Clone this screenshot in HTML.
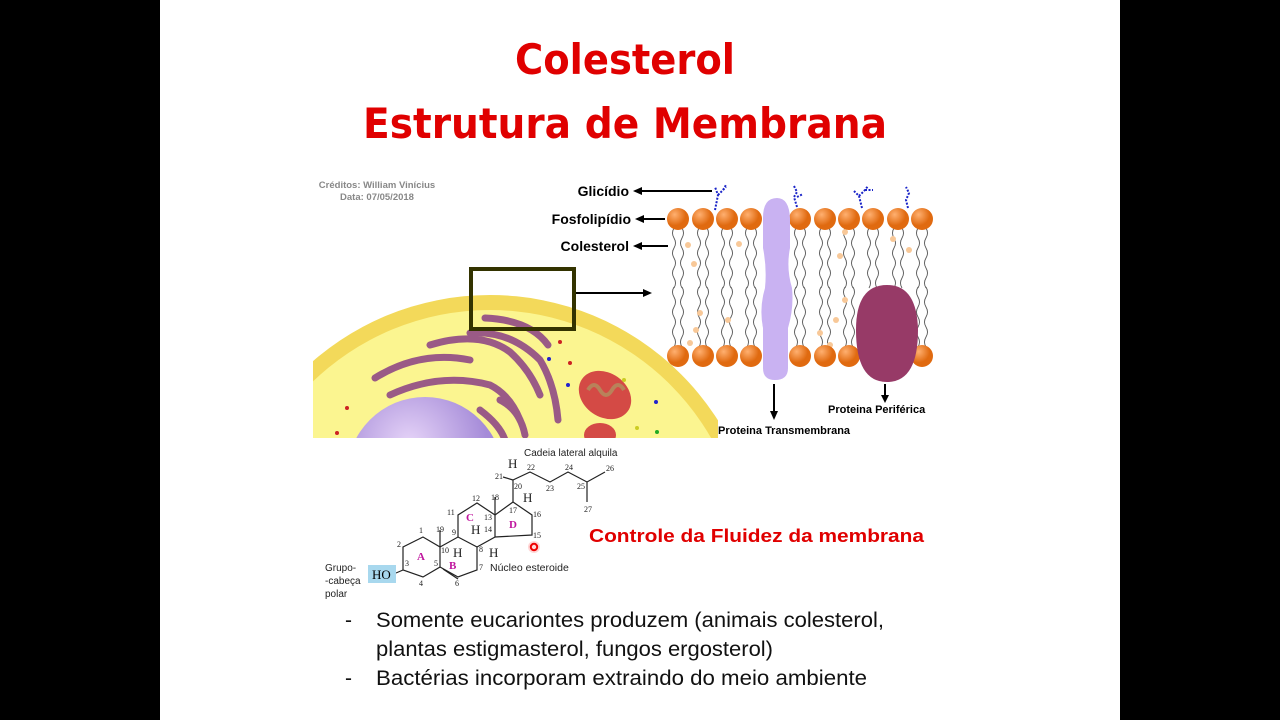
<!DOCTYPE html>
<html><head><meta charset="utf-8"><style>
html,body{margin:0;width:1280px;height:720px;background:#000;overflow:hidden;font-family:"Liberation Sans",sans-serif}
svg{display:block}
</style></head><body>
<svg width="1280" height="720" xmlns="http://www.w3.org/2000/svg" font-family="Liberation Sans, sans-serif">
<rect x="160" y="0" width="960" height="720" fill="#fff"/>
<text x="625" y="74" text-anchor="middle" font-size="42" font-weight="bold" fill="#e00000" font-family="DejaVu Sans, sans-serif" textLength="220" lengthAdjust="spacingAndGlyphs">Colesterol</text>
<text x="625" y="138" text-anchor="middle" font-size="42" font-weight="bold" fill="#e00000" font-family="DejaVu Sans, sans-serif" textLength="524" lengthAdjust="spacingAndGlyphs">Estrutura de Membrana</text>
<text x="377" y="188" text-anchor="middle" font-size="9.5" font-weight="bold" fill="#888">Créditos: William Vinícius</text>
<text x="377" y="200" text-anchor="middle" font-size="9.5" font-weight="bold" fill="#888">Data: 07/05/2018</text>
<defs><clipPath id="c"><rect x="313" y="255" width="405" height="183"/></clipPath>
<radialGradient id="nu" cx="0.4" cy="0.3"><stop offset="0" stop-color="#e6d4f8"/><stop offset="1" stop-color="#a58bd8"/></radialGradient>
<radialGradient id="h" cx="0.35" cy="0.3"><stop offset="0" stop-color="#ffb070"/><stop offset="1" stop-color="#e06a10"/></radialGradient>
<g id="tl"><path d="M0 0 q-3 5 0 10 q3 5 0 10 q-3 5 0 10 q3 5 0 10 q-3 5 0 10 q3 5 0 10"/><path d="M8 0 q3 5 0 10 q-3 5 0 10 q3 5 0 10 q-3 5 0 10 q3 5 0 10 q-3 5 0 10"/></g></defs>
<g clip-path="url(#c)">
<circle cx="490" cy="565" r="270" fill="#f3d95a"/>
<circle cx="490" cy="565" r="255" fill="#fbf590"/>
<circle cx="425" cy="475" r="78" fill="url(#nu)"/>
<g fill="none" stroke="#9a5a86" stroke-width="7" stroke-linecap="round">
<path d="M375 378 Q420 350 470 360"/><path d="M390 395 Q440 372 490 385 Q510 395 520 420"/>
<path d="M430 345 Q480 330 510 352 Q530 370 540 395"/><path d="M470 333 Q510 330 540 360 Q555 385 558 420"/>
<path d="M485 318 Q530 320 548 345"/><path d="M500 400 Q520 410 525 435"/><path d="M480 410 Q500 425 505 440"/>
</g>
<ellipse cx="605" cy="395" rx="28" ry="22" transform="rotate(35 605 395)" fill="#d44a45"/>
<path d="M588 390 q6 -10 12 0 q6 10 12 0 q6 -10 12 0" stroke="#b8825a" stroke-width="4" fill="none"/>
<ellipse cx="600" cy="435" rx="16" ry="12" fill="#d44a45"/>
<g><circle cx="560" cy="342" r="2" fill="#c22"/><circle cx="549" cy="359" r="2" fill="#22c"/><circle cx="570" cy="363" r="2" fill="#c22"/><circle cx="568" cy="385" r="2" fill="#22c"/><circle cx="656" cy="402" r="2" fill="#22c"/><circle cx="347" cy="408" r="2" fill="#c22"/><circle cx="637" cy="428" r="2" fill="#cc2"/><circle cx="657" cy="432" r="2" fill="#2a2"/><circle cx="624" cy="380" r="2" fill="#cc2"/><circle cx="337" cy="433" r="2" fill="#c22"/></g>
</g>
<rect x="471" y="269" width="103" height="60" fill="none" stroke="#333300" stroke-width="4"/>
<line x1="576" y1="293" x2="645" y2="293" stroke="#000" stroke-width="2"/><path d="M652 293 l-9 -4 v8z" fill="#000"/>
<g fill="none" stroke="#555" stroke-width="0.9">
<use href="#tl" x="674" y="228"/><use href="#tl" x="699" y="228"/><use href="#tl" x="723" y="228"/><use href="#tl" x="747" y="228"/><use href="#tl" x="796" y="228"/><use href="#tl" x="821" y="228"/><use href="#tl" x="845" y="228"/><use href="#tl" x="869" y="228"/><use href="#tl" x="894" y="228"/><use href="#tl" x="918" y="228"/>
<use href="#tl" x="674" y="287"/><use href="#tl" x="699" y="287"/><use href="#tl" x="723" y="287"/><use href="#tl" x="747" y="287"/><use href="#tl" x="796" y="287"/><use href="#tl" x="821" y="287"/><use href="#tl" x="845" y="287"/><use href="#tl" x="918" y="287"/>
</g>
<g fill="#f8c898"><circle cx="688" cy="245" r="3"/><circle cx="739" cy="244" r="3"/><circle cx="694" cy="264" r="3"/><circle cx="845" cy="232" r="3"/><circle cx="840" cy="256" r="3"/><circle cx="893" cy="239" r="3"/><circle cx="909" cy="250" r="3"/><circle cx="700" cy="313" r="3"/><circle cx="728" cy="320" r="3"/><circle cx="696" cy="330" r="3"/><circle cx="820" cy="333" r="3"/><circle cx="836" cy="320" r="3"/><circle cx="845" cy="300" r="3"/><circle cx="830" cy="345" r="3"/><circle cx="690" cy="343" r="3"/></g>
<g fill="url(#h)">
<circle cx="678" cy="219" r="11"/><circle cx="703" cy="219" r="11"/><circle cx="727" cy="219" r="11"/><circle cx="751" cy="219" r="11"/><circle cx="800" cy="219" r="11"/><circle cx="825" cy="219" r="11"/><circle cx="849" cy="219" r="11"/><circle cx="873" cy="219" r="11"/><circle cx="898" cy="219" r="11"/><circle cx="922" cy="219" r="11"/>
<circle cx="678" cy="356" r="11"/><circle cx="703" cy="356" r="11"/><circle cx="727" cy="356" r="11"/><circle cx="751" cy="356" r="11"/><circle cx="800" cy="356" r="11"/><circle cx="825" cy="356" r="11"/><circle cx="849" cy="356" r="11"/><circle cx="922" cy="356" r="11"/>
</g>
<path d="M777 198 q12 0 13 20 v30 q-4 20 2 40 q2 20 -4 40 v40 q0 12 -13 12 q-12 0 -12 -12 v-40 q-4 -20 2 -40 q2 -20 -2 -40 v-30 q0 -20 14 -20z" fill="#c9b2f2"/>
<path d="M887 285 q30 0 31 45 q0 52 -31 52 q-31 0 -31 -52 q0 -45 31 -45z" fill="#973a67"/>
<g stroke="#1a24c8" stroke-width="2" fill="none" stroke-dasharray="2 1.5">
<path d="M715 210 l3 -15 l-3 -8 M718 195 l8 -8 M723 190 l3 -5"/>
<path d="M797 207 l-3 -10 l3 -5 l-3 -6 M797 197 l6 -3"/>
<path d="M862 208 l-3 -12 l-5 -5 M859 196 l6 -6 l3 -4 M865 190 l8 0"/>
<path d="M908 208 l-2 -8 l3 -7 l-3 -6"/>
</g>
<g font-weight="bold" font-size="14" fill="#000">
<text x="629" y="196" text-anchor="end">Glicídio</text>
<text x="631" y="224" text-anchor="end">Fosfolipídio</text>
<text x="629" y="251" text-anchor="end">Colesterol</text>
</g>
<g stroke="#000" stroke-width="2"><line x1="640" y1="191" x2="712" y2="191"/><line x1="642" y1="219" x2="665" y2="219"/><line x1="640" y1="246" x2="668" y2="246"/><line x1="774" y1="384" x2="774" y2="412"/><line x1="885" y1="384" x2="885" y2="397"/></g>
<g fill="#000"><path d="M633 191 l9 -4 v8z"/><path d="M635 219 l9 -4 v8z"/><path d="M633 246 l9 -4 v8z"/><path d="M774 420 l-4 -9 h8z"/><path d="M885 403 l-4 -8 h8z"/></g>
<text x="718" y="434" font-size="11" font-weight="bold">Proteina Transmembrana</text>
<text x="828" y="413" font-size="11" font-weight="bold">Proteina Periférica</text>
<g stroke="#222" stroke-width="1.2" fill="none">
<path d="M423 537 L403 547 L403 570 L423 577 L440 567 L440 547 Z"/>
<path d="M440 547 L458 537 L477 547 L477 570 L458 577 L440 567"/>
<path d="M443 569 L458 579"/>
<path d="M458 537 L458 515 L477 503 L495 515 L495 537 L477 547"/>
<path d="M495 515 L513 502 L532 515 L532 535 L495 537"/>
<path d="M513 502 L513 480 L530 472 L550 482 L568 472 L587 482 L605 472 M587 482 L587 502 M513 480 L503 477"/>
<path d="M440 547 L440 530 M495 515 L495 497"/>
<path d="M396 573 L403 570"/>
</g>
<g font-family="Liberation Serif, serif" font-size="8" fill="#222">
<text x="419" y="533">1</text><text x="397" y="547">2</text><text x="405" y="566">3</text><text x="419" y="586">4</text><text x="434" y="566">5</text><text x="455" y="586">6</text><text x="479" y="570">7</text><text x="479" y="552">8</text><text x="452" y="535">9</text><text x="441" y="553">10</text><text x="447" y="515">11</text><text x="472" y="501">12</text><text x="484" y="520">13</text><text x="484" y="532">14</text><text x="533" y="538">15</text><text x="533" y="517">16</text><text x="509" y="513">17</text><text x="491" y="500">18</text><text x="436" y="532">19</text><text x="514" y="489">20</text><text x="495" y="479">21</text><text x="527" y="470">22</text><text x="546" y="491">23</text><text x="565" y="470">24</text><text x="577" y="489">25</text><text x="606" y="471">26</text><text x="584" y="512">27</text>
</g>
<g font-family="Liberation Serif, serif" font-size="13" fill="#222"><text x="508" y="468">H</text><text x="523" y="502">H</text><text x="471" y="534">H</text><text x="453" y="557">H</text><text x="489" y="557">H</text></g>
<g font-family="Liberation Serif, serif" font-size="11" font-weight="bold" fill="#c0169e"><text x="417" y="560">A</text><text x="449" y="569">B</text><text x="466" y="521">C</text><text x="509" y="528">D</text></g>
<rect x="368" y="565" width="28" height="18" fill="#a8d8ee"/>
<text x="372" y="579" font-family="Liberation Serif, serif" font-size="13">HO</text>
<text x="524" y="456" font-size="10" fill="#222">Cadeia lateral alquila</text>
<text x="490" y="571" font-size="10.5" fill="#222">Núcleo esteroide</text>
<g font-size="10" fill="#222"><text x="325" y="571">Grupo-</text><text x="325" y="584">-cabeça</text><text x="325" y="597">polar</text></g>
<circle cx="534" cy="547" r="6" fill="#fbb" opacity="0.6"/><circle cx="534" cy="547" r="3.2" fill="none" stroke="#e00" stroke-width="2"/>
<text x="589" y="542" font-size="18" font-weight="bold" fill="#e00000" textLength="335" lengthAdjust="spacingAndGlyphs">Controle da Fluidez da membrana</text>
<g font-size="21" fill="#111" font-family="Liberation Sans, sans-serif">
<text x="345" y="627">-</text><text x="376" y="627" textLength="508" lengthAdjust="spacingAndGlyphs">Somente eucariontes produzem (animais colesterol,</text>
<text x="376" y="656" textLength="397" lengthAdjust="spacingAndGlyphs">plantas estigmasterol, fungos ergosterol)</text>
<text x="345" y="685">-</text><text x="376" y="685" textLength="491" lengthAdjust="spacingAndGlyphs">Bactérias incorporam extraindo do meio ambiente</text>
</g>
</svg>
</body></html>
